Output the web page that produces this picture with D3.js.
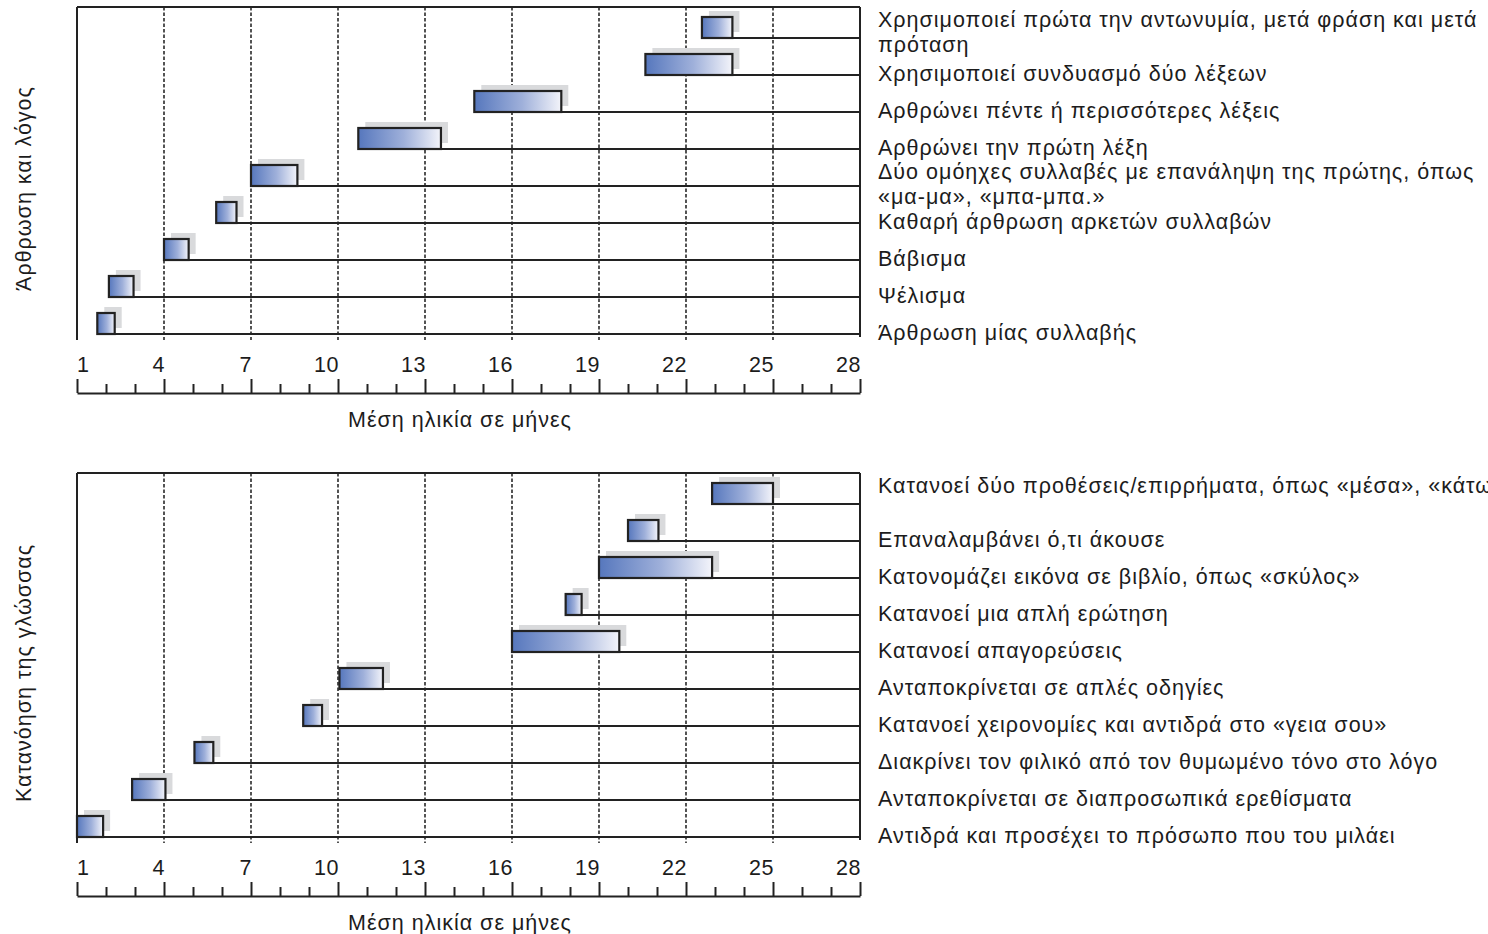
<!DOCTYPE html>
<html>
<head>
<meta charset="utf-8">
<script src="https://cdn.jsdelivr.net/npm/d3@7"></script>
<style>
  body { margin: 0; background: #fff; }
  text { font-family: "Liberation Sans", Arial, sans-serif; fill: #1c1c1c; letter-spacing: 1px; }
</style>
</head>
<body>
<svg id="chart" width="1488" height="934"></svg>
<script>
// months on the axis
const month_ticks = [1, 4, 7, 10, 13, 16, 19, 22, 25, 28]
const month_minor = d3.range(1, 29)
const axis_title = "Μέση ηλικία σε μήνες"

// panel 1: articulation & speech (top row first)
const speech_title = "Άρθρωση και λόγος"
const speech_labels = [
	"Χρησιμοποιεί πρώτα την αντωνυμία, μετά φράση και μετά\nπρόταση",
	"Χρησιμοποιεί συνδυασμό δύο λέξεων",
	"Αρθρώνει πέντε ή περισσότερες λέξεις",
	"Αρθρώνει την πρώτη λέξη",
	"Δύο ομόηχες συλλαβές με επανάληψη της πρώτης, όπως\n«μα-μα», «μπα-μπα.»",
	"Καθαρή άρθρωση αρκετών συλλαβών",
	"Βάβισμα",
	"Ψέλισμα",
	"Άρθρωση μίας συλλαβής"
]
const speech_start = [22.55, 20.6, 14.7, 10.7, 7.0, 5.8, 4.0, 2.1, 1.7]
const speech_end   = [23.6, 23.6, 17.7, 13.55, 8.6, 6.5, 4.85, 2.95, 2.3]

// panel 2: language comprehension
const comp_title = "Κατανόηση της γλώσσας"
const comp_labels = [
	"Κατανοεί δύο προθέσεις/επιρρήματα, όπως «μέσα», «κάτω»",
	"Επαναλαμβάνει ό,τι άκουσε",
	"Κατονομάζει εικόνα σε βιβλίο, όπως «σκύλος»",
	"Κατανοεί μια απλή ερώτηση",
	"Κατανοεί απαγορεύσεις",
	"Ανταποκρίνεται σε απλές οδηγίες",
	"Κατανοεί χειρονομίες και αντιδρά στο «γεια σου»",
	"Διακρίνει τον φιλικό από τον θυμωμένο τόνο στο λόγο",
	"Ανταποκρίνεται σε διαπροσωπικά ερεθίσματα",
	"Αντιδρά και προσέχει το πρόσωπο που του μιλάει"
]
const comp_start = [22.9, 20.0, 19.0, 17.85, 16.0, 10.05, 8.8, 5.05, 2.9, 1.0]
const comp_end   = [25.0, 21.05, 22.9, 18.4, 19.7, 11.55, 9.45, 5.7, 4.05, 1.9]

const svg = d3.select("#chart")
const left = 77, right = 860
const row_gap = 37, bar_h = 21
const label_x = 878, line_h = 25
const font_px = 21.5

const x = d3.scaleLinear().domain([1, 28]).range([left, right])

const defs = svg.append("defs")
const grad = defs.append("linearGradient").attr("id", "barfill")
	.attr("x1", "0%").attr("x2", "100%").attr("y1", "0%").attr("y2", "0%")
grad.append("stop").attr("offset", "0%").attr("stop-color", "#5677bd")
grad.append("stop").attr("offset", "55%").attr("stop-color", "#9fb0da")
grad.append("stop").attr("offset", "100%").attr("stop-color", "#f3f4fa")

function draw_panel(top, title, labels, starts, ends) {
	const g = svg.append("g")
	const n = labels.length
	const y = d3.scalePoint().domain(d3.range(n))
		.range([top + 31, top + 31 + (n - 1) * row_gap])
	const bottom = y(n - 1) + 6

	// dashed grid
	g.selectAll("line.grid")
		.data(month_ticks.filter(d => d > 1 && d < 28)).enter().append("line")
		.attr("x1", d => x(d)).attr("x2", d => x(d))
		.attr("y1", top).attr("y2", bottom)
		.attr("stroke", "#2a2a2a").attr("stroke-width", 1.6)
		.attr("stroke-dasharray", "3.5,2")

	// frame
	g.append("line").attr("x1", left).attr("x2", right).attr("y1", top).attr("y2", top)
		.attr("stroke", "#222").attr("stroke-width", 2)
	g.append("line").attr("x1", left).attr("x2", left).attr("y1", top).attr("y2", bottom)
		.attr("stroke", "#222").attr("stroke-width", 2)
	g.append("line").attr("x1", right).attr("x2", right).attr("y1", top).attr("y2", y(n - 1) + 3)
		.attr("stroke", "#222").attr("stroke-width", 2)

	const rows = d3.range(n)

	// leader lines
	g.selectAll("line.lead").data(rows).enter().append("line")
		.attr("x1", i => x(ends[i])).attr("x2", right)
		.attr("y1", i => y(i)).attr("y2", i => y(i))
		.attr("stroke", "#222").attr("stroke-width", 1.8)

	// shadows
	g.selectAll("rect.shadow").data(rows).enter().append("rect")
		.attr("x", i => x(starts[i]) + 7)
		.attr("y", i => y(i) - bar_h - 6)
		.attr("width", i => x(ends[i]) - x(starts[i]))
		.attr("height", bar_h)
		.attr("fill", "#d9dadc")

	// bars
	g.selectAll("rect.bar").data(rows).enter().append("rect")
		.attr("x", i => x(starts[i]))
		.attr("y", i => y(i) - bar_h)
		.attr("width", i => x(ends[i]) - x(starts[i]))
		.attr("height", bar_h)
		.attr("fill", "url(#barfill)")
		.attr("stroke", "#222").attr("stroke-width", 2.2)

	// row labels
	g.selectAll("text.rowlab").data(rows).enter().append("text")
		.attr("font-size", font_px)
		.each(function (i) {
			const parts = labels[i].split("\n")
			let base = y(i) - 2 + 7.5 - (parts.length - 1) * line_h / 2
			if (i == 0) base = Math.min(base, top + 20)
			d3.select(this).selectAll("tspan").data(parts).enter().append("tspan")
				.attr("x", label_x)
				.attr("y", (d, k) => base + k * line_h)
				.text(d => d)
		})

	// axis
	const axis_y = bottom + 53
	const ax = g.append("g").attr("transform", `translate(0,${axis_y})`)
		.call(d3.axisBottom(x).tickValues(month_minor).tickSizeInner(-9).tickSizeOuter(0).tickFormat(""))
	ax.select(".domain").attr("stroke", "#222").attr("stroke-width", 2)
	ax.selectAll(".tick line").attr("stroke", "#222").attr("stroke-width", 2)
		.attr("y2", d => month_ticks.includes(d) ? -14 : -9)
	ax.selectAll(".tick text").remove()

	g.selectAll("text.ticklab").data(month_ticks).enter().append("text")
		.attr("x", d => d == 1 ? x(d) : x(d) + 1)
		.attr("y", axis_y - 21)
		.attr("text-anchor", d => d == 1 ? "start" : "end")
		.attr("font-size", font_px)
		.style("letter-spacing", "0.5px")
		.text(d => d)

	g.append("text")
		.attr("x", 460).attr("y", axis_y + 34)
		.attr("text-anchor", "middle").attr("font-size", font_px)
		.text(axis_title)

	g.append("text")
		.attr("transform", `translate(31,${(top + bottom) / 2 + 15}) rotate(-90)`)
		.attr("text-anchor", "middle").attr("font-size", font_px)
		.text(title)
}

draw_panel(7, speech_title, speech_labels, speech_start, speech_end)
draw_panel(473, comp_title, comp_labels, comp_start, comp_end)
</script>
</body>
</html>
